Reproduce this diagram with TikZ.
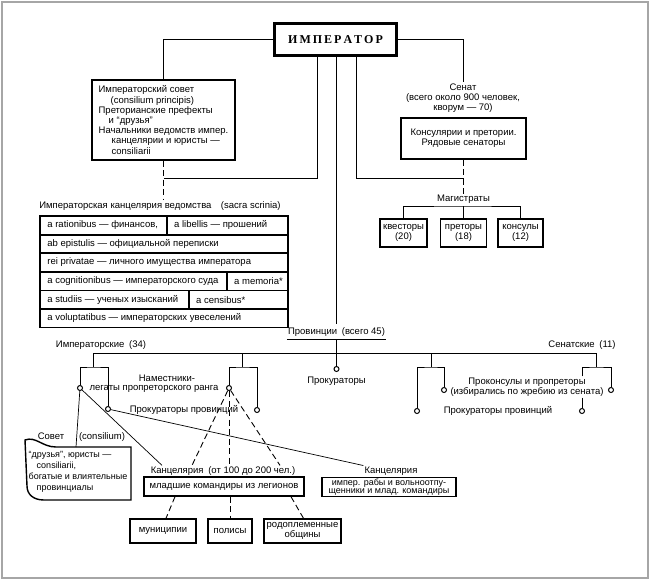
\documentclass[tikz,border=0pt]{standalone}
\usepackage{fontspec}
\setmainfont{Liberation Sans}
\newfontfamily\impfont{Liberation Serif}

\tikzset{
  line/.style={line width=0.7pt},
  dashline/.style={line width=0.9pt, dash pattern=on 6pt off 3.5pt},
  box/.style={draw, line width=1.4pt, inner sep=2pt, align=center},
  lbl/.style={inner sep=1pt, align=center},
  dot/.style={circle, draw, line width=1pt, fill=white, inner sep=0pt, minimum size=5pt},
  cell/.style={draw, line width=0.8pt, anchor=north west, minimum height=17.8pt, inner xsep=7pt, inner ysep=0pt},
}
\newcommand{\celltext}[2]{\makebox[#1pt][l]{#2}}

\begin{document}
\begin{tikzpicture}[x=1pt, y=-1pt, font=\fontsize{9.5}{10.2}\selectfont]
  \useasboundingbox (0,0) rectangle (650,580);
  \draw[gray!70, line width=1.5pt] (2,2) rectangle (648,578);

  % emperor and the upper boxes
  \node[box, line width=2.4pt, minimum width=122pt, minimum height=32pt,
        font=\impfont\bfseries\fontsize{12}{14}\selectfont] (imp) at (335.5,39.5) {И\,М\,П\,Е\,Р\,А\,Т\,О\,Р};
  \node[box, minimum width=143pt, minimum height=80pt, align=left] (council) at (163.5,120)
    {Императорский совет\\ \hspace*{12pt}(consilium principis)\\ Преторианские префекты\\
     \hspace*{10pt}и “друзья”\\ Начальники ведомств импер.\\ \hspace*{13pt}канцелярии и юристы —\\
     \hspace*{13pt}consiliarii};
  \node[lbl] (senate) at (463,98) {Сенат\\(всего около 900 человек,\\кворум — 70)};
  \node[box, minimum width=125pt, minimum height=41pt] (senbox) at (463.5,138.5) {Консулярии и претории.\\Рядовые сенаторы};

  \draw[line] (imp.west) -| (council.north);
  \draw[line] (imp.east) -| (senate.north);
  \coordinate (jl) at (163.5,178);
  \coordinate (jr) at (463.5,178);
  \draw[line] ([xshift=-18.5pt]imp.south) |- (jl);
  \draw[line] ([xshift=20.5pt]imp.south) |- (jr);

  % sacra scrinia
  \node[lbl] (scrinia) at (160,206) {Императорская канцелярия ведомства\quad(sacra scrinia)};
  \draw[dashline] (council.south) -- (council.south |- scrinia.north);
  \node[cell] (r1a) at (40,216) {\celltext{112}{a rationibus — финансов,}};
  \node[cell] (r1b) at (r1a.north east) {\celltext{107}{a libellis — прошений}};
  \node[cell] (r2) at (r1a.south west) {\celltext{233}{ab epistulis — официальной переписки}};
  \node[cell] (r3) at (r2.south west) {\celltext{233}{rei privatae — личного имущества императора}};
  \node[cell] (r4a) at (r3.south west) {\celltext{172}{a cognitionibus — императорского суда}};
  \node[cell] (r4b) at (r4a.north east) {\celltext{47}{a memoria*}};
  \node[cell] (r5a) at (r4a.south west) {\celltext{134}{a studiis — ученых изысканий}};
  \node[cell] (r5b) at (r5a.north east) {\celltext{85}{a censibus*}};
  \node[cell] (r6) at (r5a.south west) {\celltext{233}{a voluptatibus — императорских увеселений}};
  \draw[line width=1.6pt] (r1a.north west) rectangle (r6.south east);

  % magistrates
  \node[lbl] (magistr) at (463.5,199) {Магистраты};
  \node[box, minimum width=47pt, minimum height=28pt] (kvest) at (403.5,233) {квесторы\\(20)};
  \node[box, minimum width=46pt, minimum height=28pt] (pret) at (463.5,233) {преторы\\(18)};
  \node[box, minimum width=45pt, minimum height=28pt] (kons) at (520.5,233) {консулы\\(12)};
  \draw[dashline] (senbox.south) -- (magistr.north);
  \coordinate (mbar) at (463.5,206);
  \draw[line] (kvest.north) |- (mbar) -| (kons.north);
  \draw[line] (mbar) -- (pret.north);

  % provinces
  \node[lbl, inner ysep=3pt] (prov) at (336.5,332) {Провинции\enspace(всего 45)};
  \draw[line] ([xshift=1pt]imp.south) -- ([xshift=1pt]imp.south |- prov.north);
  \draw[line] (prov.south west) -- (prov.south east);
  \node[dot] (procdot) at (336.5,369) {};
  \node[lbl] (proc) at (336.5,381) {Прокураторы};
  \draw[line] (prov.south) -- (procdot);
  \coordinate (hl) at (93,353);
  \coordinate (hr) at (596,353);
  \draw[line] (hl) -- (hr);
  \node[lbl] (impprov) at (101,345) {Императорские\enspace(34)};
  \node[lbl] (senprov) at (582,345) {Сенатские\enspace(11)};

  % imperial provinces
  \coordinate (a1) at (93,367);
  \node[dot] (legA) at (80,388) {};
  \node[dot] (procA) at (108,409) {};
  \draw[line] (hl) -- (a1);
  \draw[line] (legA) |- (a1) -| (procA);
  \coordinate (b0) at (242,353);
  \coordinate (b1) at (242,367);
  \node[dot] (legB) at (229,388) {};
  \node[dot] (procB) at (257,410) {};
  \draw[line] (b0) -- (b1);
  \draw[line] (legB) |- (b1) -| (procB);
  \node[lbl] (legAt1) at (167,378) {Наместники-};
  \node[lbl] (legAt2) at (154,389) {легаты пропреторского ранга};
  \node[lbl] (procAt) at (184,410) {Прокураторы провинций};

  % senatorial provinces
  \coordinate (c0) at (431,353);
  \coordinate (c1) at (431,367);
  \node[dot] (procC) at (417,411) {};
  \node[dot] (legC) at (444,390) {};
  \draw[line] (c0) -- (c1);
  \draw[line] (procC) |- (c1) -| (legC);
  \coordinate (d1) at (596,367);
  \node[dot] (procD) at (582,411) {};
  \node[dot] (legD) at (611,390) {};
  \node[lbl] (proconsul) at (527,387) {Проконсулы и пропреторы\\(избирались по жребию из сената)};
  \node[lbl] (procCt) at (498,411) {Прокураторы провинций};
  \draw[line] (hr) -- (d1);
  \draw[line] (proconsul.north -| procD) |- (d1) -| (legD);
  \draw[line] (proconsul.south -| procD) -- (procD);

  % council of the governor
  \draw[line width=1.4pt] (25,440) .. controls (36,436) and (42,447) .. (56,447) -- (131,447)
    -- (131,500) -- (44,500) .. controls (33,500) and (27,494) .. (27,486) -- cycle;
  \coordinate (sovtop) at (76,447);
  \node[lbl] (sovet) at (51,436) {Совет};
  \node[lbl] (consil) at (102,437) {(consilium)};
  \node[lbl, align=left, font=\fontsize{9}{10.8}\selectfont] (sovtext) at (78,472)
    {“друзья”, юристы —\\ \hspace*{8pt}consiliarii,\\богатые и влиятельные\\ \hspace*{8pt}провинциалы};
  \draw[line] (legA) -- (sovtop);

  % chanceries
  \node[lbl] (kancA) at (223,471) {Канцелярия\enspace(от 100 до 200 чел.)};
  \node[box, minimum width=160pt, minimum height=19pt] (kancAbox) at (224,486.5) {младшие командиры из легионов};
  \node[lbl] (kancB) at (391,471) {Канцелярия};
  \node[box, minimum width=134pt, minimum height=18pt, inner sep=1pt,
        font=\fontsize{9}{8}\selectfont] (kancBbox) at (389,487) {импер. рабы и вольноотпу-\\щенники и млад. командиры};
  \draw[line] (legA) -- ([xshift=-61pt]kancA.north);
  \draw[line] (procA) -- (kancB.north west);
  \draw[dashline] (legB) -- ([xshift=-31pt]kancA.north);
  \draw[dashline] (legB) -- (legB |- kancA.north);
  \draw[dashline] (legB) -- ([xshift=57pt]kancA.north);

  % communities
  \node[box, minimum width=66pt, minimum height=24pt] (munic) at (163,531) {муниципии};
  \node[box, minimum width=44pt, minimum height=24pt] (polis) at (230,531) {полисы};
  \node[box, minimum width=77pt, minimum height=24pt, font=\fontsize{9.5}{9.5}\selectfont] (rodo) at (302.5,531) {родоплеменные\\общины};
  \draw[dashline] ([xshift=-49pt]kancAbox.south) -- ([xshift=3pt]munic.north);
  \draw[dashline] (polis.north |- kancAbox.south) -- (polis.north);
  \draw[dashline] ([xshift=67pt]kancAbox.south) -- ([xshift=1pt]rodo.north);
\end{tikzpicture}
\end{document}
